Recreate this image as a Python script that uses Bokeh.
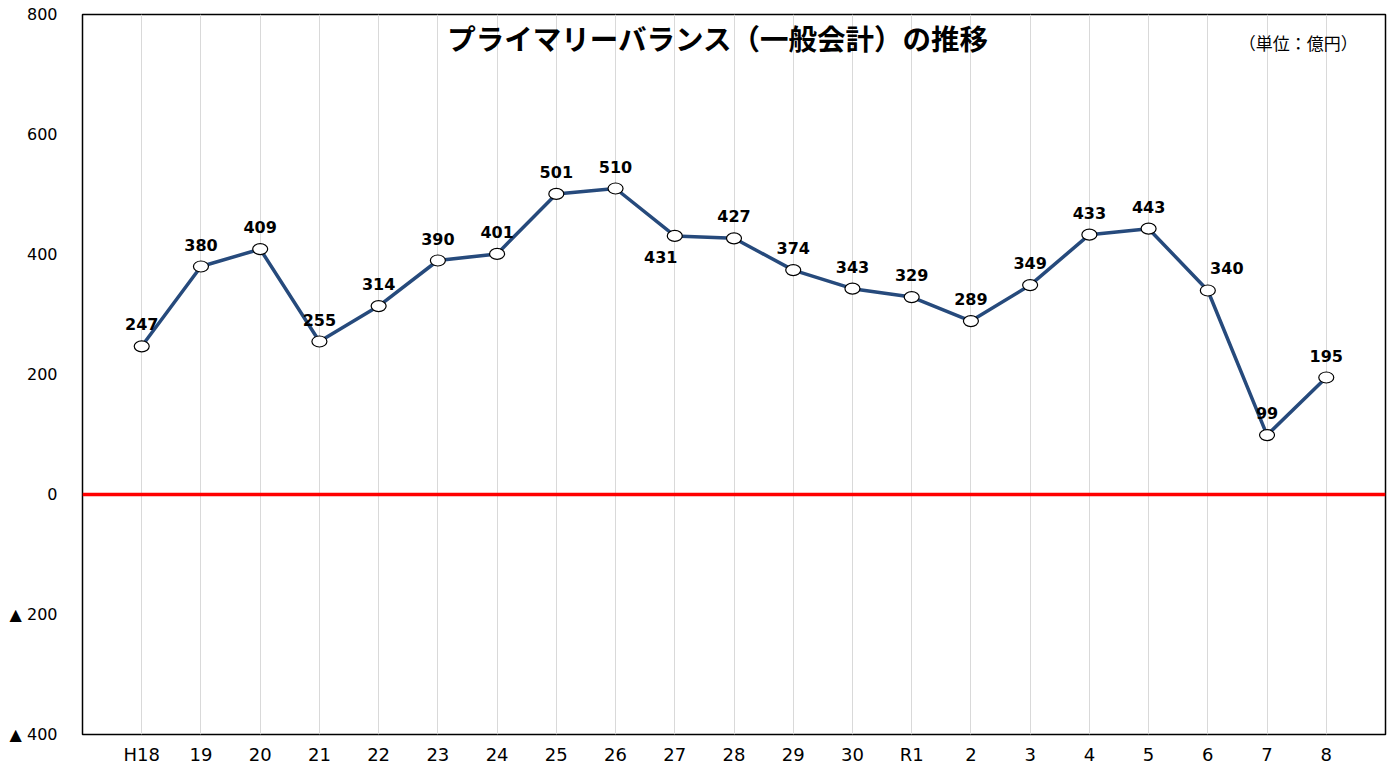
from bokeh.plotting import figure
from bokeh.models import ColumnDataSource, Range1d, FixedTicker, Span, Label
from bokeh.embed import file_html
from bokeh.resources import INLINE
from bokeh.core.properties import value

# ---- data ----
years = ["H18", "19", "20", "21", "22", "23", "24", "25", "26", "27", "28",
         "29", "30", "R1", "2", "3", "4", "5", "6", "7", "8"]
balance = [247, 380, 409, 255, 314, 390, 401, 501, 510, 431, 427,
           374, 343, 329, 289, 349, 433, 443, 340, 99, 195]
y_ticks = [-400, -200, 0, 200, 400, 600, 800]
y_tick_labels = ["▲ 400", "▲ 200", "0", "200", "400", "600", "800"]
title_text = "プライマリーバランス（一般会計）の推移"
unit_text = "（単位：億円）"

# ---- styling helpers (label offsets in screen px) ----
idx = list(range(len(years)))
label_dx = [0] * len(years)
label_dy = [-22] * len(years)
label_dx[9], label_dy[9] = -14, 21
label_dx[18], label_dy[18] = 19, -23

src = ColumnDataSource(dict(x=idx, y=balance, txt=[str(v) for v in balance],
                            dx=label_dx, dy=label_dy))

p = figure(width=1387, height=767, output_backend="svg", toolbar_location=None,
           x_range=Range1d(-1, len(years)), y_range=Range1d(-400, 800),
           min_border_left=82, min_border_right=2, min_border_top=14,
           min_border_bottom=30)

p.outline_line_color = "black"
p.outline_line_width = 1.5
p.background_fill_color = "white"
p.border_fill_color = "white"

# axes
p.xaxis.ticker = FixedTicker(ticks=idx)
p.xaxis.major_label_overrides = {i: s for i, s in zip(idx, years)}
p.yaxis.ticker = FixedTicker(ticks=y_ticks)
p.yaxis.major_label_overrides = {t: s for t, s in zip(y_ticks, y_tick_labels)}
for ax in (p.xaxis, p.yaxis):
    ax.axis_line_color = None
    ax.major_tick_line_color = None
    ax.minor_tick_line_color = None
    ax.major_label_text_font = "DejaVu Sans"
    ax.major_label_text_color = "black"
p.xaxis.major_label_text_font_size = "18px"
p.xaxis.major_label_standoff = 3
p.yaxis.major_label_text_font_size = "16px"
p.yaxis.major_label_standoff = 19

p.xgrid.ticker = FixedTicker(ticks=idx)
p.xgrid.grid_line_color = "#D9D9D9"
p.xgrid.grid_line_width = 1
p.ygrid.grid_line_color = None

# zero line
p.add_layout(Span(location=0, dimension="width", line_color="#FF0000", line_width=3.5))

# series
p.line("x", "y", source=src, line_color="#264A7C", line_width=3.5)
p.ellipse("x", "y", width=15, height=11, width_units="screen", height_units="screen",
          source=src, fill_color="white", line_color="black", line_width=1.2)
p.text("x", "y", text="txt", source=src, x_offset="dx", y_offset="dy",
       text_align="center", text_baseline="middle",
       text_font=value("DejaVu Sans"), text_font_style="bold",
       text_font_size="16px", text_color="black")

# title and unit
p.add_layout(Label(x=9.73, y=762, text=title_text, text_align="center",
                   text_baseline="middle", text_font="Noto Sans CJK JP",
                   text_font_style="bold", text_font_size="28.5px", text_color="black"))
p.add_layout(Label(x=20.53, y=753, text=unit_text, text_align="right",
                   text_baseline="middle", text_font="Noto Sans CJK JP",
                   text_font_size="17px", text_color="black"))

open("out.html", "w").write(file_html(p, INLINE))
